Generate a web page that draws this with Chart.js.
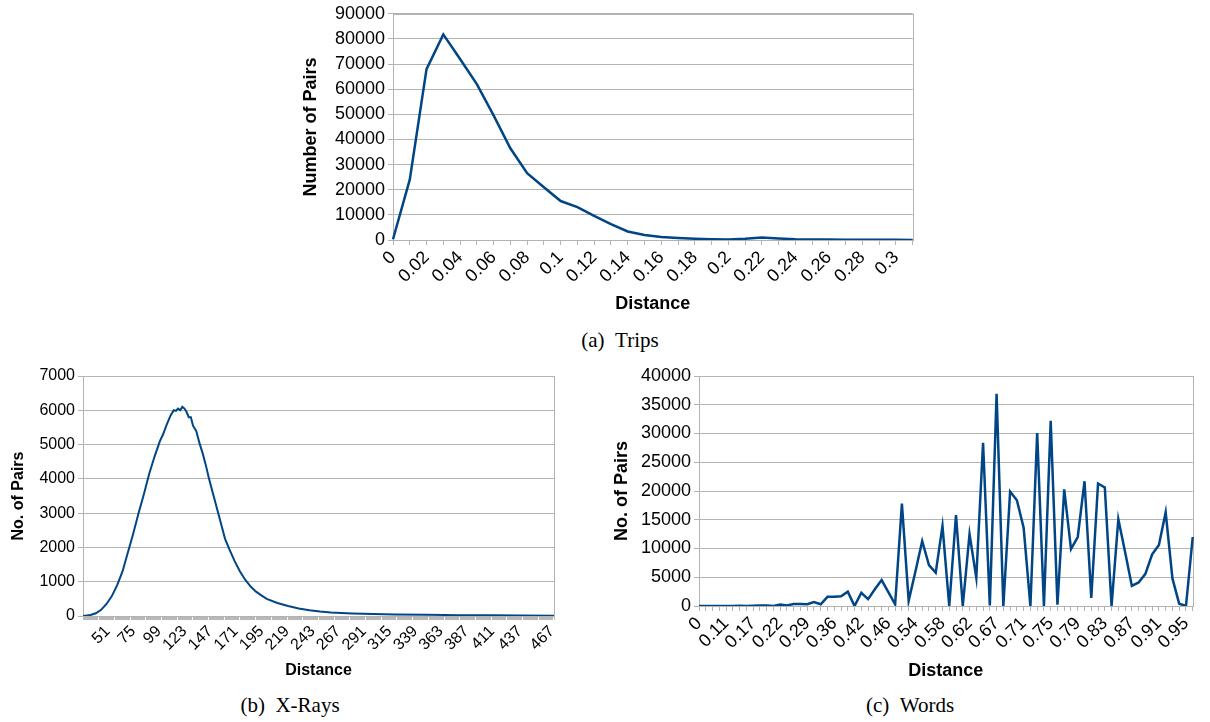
<!DOCTYPE html>
<html>
<head>
<meta charset="utf-8">
<title>Distance distributions</title>
<script src="https://cdn.jsdelivr.net/npm/chart.js@4.4.1/dist/chart.umd.min.js"></script>
<style>
  body { margin: 0; background: #fff; width: 1210px; height: 722px; position: relative; overflow: hidden; }
  .box { position: absolute; }
  .cap { position: absolute; width: 300px; text-align: center; font-family: "Liberation Serif", "DejaVu Serif", serif; font-size: 21px; color: #000; line-height: 24px; }
</style>
</head>
<body>
<div class="box" style="left:290px;top:0px;"><canvas id="tripsChart" width="640" height="320"></canvas></div>
<div class="cap" style="left:470px;top:328px;">(a)&nbsp;&nbsp;Trips</div>
<div class="box" style="left:0px;top:360px;"><canvas id="xrayChart" width="570" height="330"></canvas></div>
<div class="cap" style="left:140px;top:693px;">(b)&nbsp;&nbsp;X-Rays</div>
<div class="box" style="left:600px;top:360px;"><canvas id="wordsChart" width="610" height="330"></canvas></div>
<div class="cap" style="left:760px;top:693px;">(c)&nbsp;&nbsp;Words</div>
<script>
// (a) Trips
var tripsDist = [0, 0.01, 0.02, 0.03, 0.04, 0.05, 0.06, 0.07, 0.08, 0.09, 0.1, 0.11, 0.12, 0.13, 0.14, 0.15,
                 0.16, 0.17, 0.18, 0.19, 0.2, 0.21, 0.22, 0.23, 0.24, 0.25, 0.26, 0.27, 0.28, 0.29, 0.3, 0.31];
var tripsPairs = [300, 24000, 68000, 81800, 72000, 62000, 49600, 36500, 26600, 21000, 15500, 13100, 9600, 6300, 3400, 2000,
                  1200, 800, 500, 300, 200, 500, 1000, 600, 300, 200, 150, 100, 100, 50, 50, 30];

// (b) X-Rays
var xrayDist = [28, 30, 35, 40, 45, 50, 55, 60, 65, 70, 75, 80, 85, 90, 95, 100, 103, 106, 110, 113,
                115, 117, 119, 121, 123, 125, 127, 129, 131, 134, 137, 140, 143, 146, 149, 152, 155, 158, 161, 165,
                170, 175, 180, 185, 190, 195, 200, 210, 220, 230, 240, 250, 260, 280, 300, 320, 350, 380, 411, 437, 469];
var xrayPairs = [0, 10, 30, 80, 180, 350, 580, 900, 1300, 1850, 2400, 3000, 3550, 4150, 4650, 5100, 5300, 5550, 5850, 6000,
                 5980, 6050, 6000, 6100, 6050, 5950, 5800, 5800, 5550, 5400, 5050, 4750, 4400, 4000, 3650, 3300, 2950, 2600, 2250, 1950,
                 1600, 1300, 1050, 860, 710, 600, 500, 380, 290, 220, 170, 130, 100, 75, 55, 45, 35, 25, 20, 15, 10];
var xrayTickLabels = [51, 75, 99, 123, 147, 171, 195, 219, 243, 267, 291, 315, 339, 363, 387, 411, 437, 467];

// (c) Words
var wordsDist = [0, 0.04, 0.07, 0.09, 0.11, 0.13, 0.14, 0.15, 0.17, 0.18, 0.2, 0.21, 0.22, 0.24, 0.25, 0.27,
                 0.29, 0.31, 0.33, 0.35, 0.36, 0.38, 0.4, 0.41, 0.42, 0.43, 0.44, 0.45, 0.46, 0.5, 0.52, 0.53,
                 0.54, 0.55, 0.56, 0.57, 0.58, 0.59, 0.6, 0.61, 0.62, 0.63, 0.64, 0.65, 0.67, 0.68, 0.69, 0.7,
                 0.71, 0.72, 0.73, 0.74, 0.75, 0.76, 0.77, 0.78, 0.79, 0.8, 0.81, 0.82, 0.83, 0.84, 0.85, 0.86,
                 0.87, 0.88, 0.89, 0.9, 0.91, 0.92, 0.93, 0.94, 0.95, 1];
var wordsPairs = [0, 0, 0, 0, 10, 20, 30, 20, 60, 80, 100, 20, 250, 100, 350, 350,
                  300, 700, 300, 1600, 1600, 1700, 2500, 0, 2300, 1200, 2900, 4500, 2400, 300, 17800, 900,
                  6000, 11300, 7100, 5800, 13900, 0, 15800, 0, 12500, 4900, 28400, 100, 36900, 0, 19900, 18400,
                  13600, 0, 30100, 0, 32200, 230, 20300, 9900, 12000, 21700, 1400, 21300, 20600, 0, 15100, 9400,
                  3500, 4100, 5600, 9000, 10600, 16300, 4800, 400, 0, 12000];

var gridGray = '#b3b3b3';
var lineBlue = '#004586';

Chart.defaults.font.family = '"Liberation Sans", Arial, sans-serif';
Chart.defaults.color = '#000';
Chart.defaults.animation = false;

// gray frame round the plot area, like the office chart
var plotFrame = {
    id: 'plotFrame',
    beforeDatasetsDraw: function(chart) {
        var a = chart.chartArea;
        var ctx = chart.ctx;
        ctx.save();
        ctx.strokeStyle = gridGray;
        ctx.lineWidth = 1;
        ctx.strokeRect(Math.round(a.left) + 0.5, Math.round(a.top) + 0.5, Math.round(a.right - a.left), Math.round(a.bottom - a.top));
        ctx.restore();
    }
};

function yAxis(max, step, title, size, width, titlePad) {
    return {
        min: 0,
        max: max,
        ticks: {
            stepSize: step, font: { size: size }, padding: 3,
            callback: function(v) { return String(v); }
        },
        grid: { color: gridGray, tickLength: 5 },
        border: { color: gridGray },
        title: { display: true, text: title, font: { size: size, weight: 'bold' }, padding: { top: titlePad, bottom: 0 } },
        afterFit: function(s) { s.width = width; }
    };
}

function xTitle(size, pad) {
    return { display: true, text: 'Distance', font: { size: size, weight: 'bold' }, padding: { top: 0, bottom: pad } };
}

function lineData(labels, values, width) {
    return {
        labels: labels,
        datasets: [{
            data: values,
            borderColor: lineBlue,
            borderWidth: width,
            pointRadius: 0,
            tension: 0,
            fill: false
        }]
    };
}

document.addEventListener('DOMContentLoaded', function() {
    new Chart(document.getElementById('tripsChart'), {
        type: 'line',
        data: lineData(tripsDist, tripsPairs, 2.5),
        options: {
            responsive: false,
            layout: { padding: { top: 11, right: 15, left: 0, bottom: 0 } },
            plugins: { legend: { display: false } },
            scales: {
                x: {
                    ticks: {
                        autoSkip: false, minRotation: 45, maxRotation: 45, font: { size: 18 }, padding: 2,
                        callback: function(v, i) { return i % 2 === 0 ? String(tripsDist[i]) : ''; }
                    },
                    grid: { drawOnChartArea: false, color: gridGray, tickLength: 5 },
                    border: { color: gridGray },
                    title: xTitle(18, 5),
                    afterFit: function(s) { s.height = 80; }
                },
                y: yAxis(90000, 10000, 'Number of Pairs', 18, 103, 10)
            }
        },
        plugins: [plotFrame]
    });

    var xrayPoints = xrayDist.map(function(d, i) { return { x: d, y: xrayPairs[i] }; });
    new Chart(document.getElementById('xrayChart'), {
        type: 'line',
        data: { datasets: [{ data: xrayPoints, borderColor: lineBlue, borderWidth: 2, pointRadius: 0, tension: 0, fill: false }] },
        options: {
            responsive: false,
            layout: { padding: { top: 16, right: 16, left: 0, bottom: 0 } },
            plugins: { legend: { display: false } },
            scales: {
                x: {
                    type: 'linear',
                    min: 28,
                    max: 469,
                    afterBuildTicks: function(s) {
                        var t = [];
                        for (var v = 28; v <= 469; v++) t.push({ value: v });
                        s.ticks = t;
                    },
                    ticks: {
                        autoSkip: false, minRotation: 45, maxRotation: 45, font: { size: 16 }, padding: 2,
                        callback: function(v) { return xrayTickLabels.indexOf(v) >= 0 ? String(v) : ''; }
                    },
                    grid: { drawOnChartArea: false, color: '#b8b8b8', tickLength: 4 },
                    border: { color: gridGray },
                    title: xTitle(16, 10),
                    afterFit: function(s) { s.height = 74; }
                },
                y: yAxis(7000, 1000, 'No. of Pairs', 16, 83, 9)
            }
        },
        plugins: [plotFrame]
    });

    new Chart(document.getElementById('wordsChart'), {
        type: 'line',
        data: lineData(wordsDist, wordsPairs, 2.5),
        options: {
            responsive: false,
            layout: { padding: { top: 16, right: 4, left: 0, bottom: 0 } },
            plugins: { legend: { display: false } },
            scales: {
                x: {
                    ticks: {
                        autoSkip: false, minRotation: 45, maxRotation: 45, font: { size: 18 }, padding: 2,
                        callback: function(v, i) { return i % 4 === 0 ? String(wordsDist[i]) : ''; }
                    },
                    grid: { drawOnChartArea: false, color: gridGray, tickLength: 5 },
                    border: { color: gridGray },
                    title: xTitle(18, 8),
                    afterFit: function(s) { s.height = 84; }
                },
                y: yAxis(40000, 5000, 'No. of Pairs', 18, 99, 11)
            }
        },
        plugins: [plotFrame]
    });
});
</script>
</body>
</html>
